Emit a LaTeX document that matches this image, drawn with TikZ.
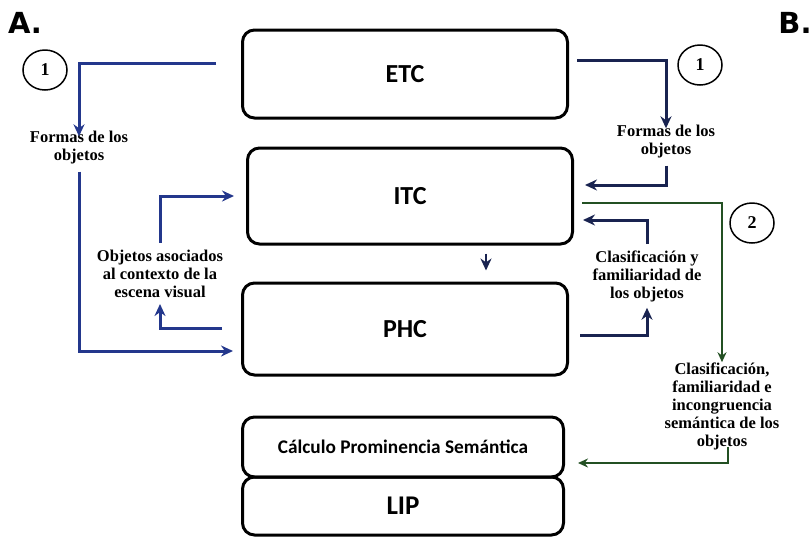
\documentclass[tikz,border=0pt]{standalone}
\usepackage{fontspec}
\usepackage{xcolor}
\usepackage{tikz}
\usetikzlibrary{shapes.geometric}
\usetikzlibrary{positioning}
\usetikzlibrary{arrows.meta}
\newfontfamily\boxfont{Carlito}
\newfontfamily\capfont{Liberation Serif}
\newfontfamily\headfont{DejaVu Sans}
\definecolor{refblue}{RGB}{35,55,140}
\definecolor{refnavy}{RGB}{25,35,80}
\definecolor{refgreen}{RGB}{35,80,35}
\tikzstyle{stage} = [rectangle, rounded corners=12pt, minimum width=325pt, minimum height=92pt, text centered, draw=black, line width=3pt, font=\boxfont\bfseries\fontsize{26}{30}\selectfont]
\tikzstyle{caption} = [align=center, inner sep=1pt, font=\capfont\bfseries\fontsize{16.5}{18}\selectfont]
\tikzstyle{stepnum} = [ellipse, draw=black, line width=1.5pt, minimum width=44pt, minimum height=40pt, inner sep=0pt, font=\capfont\bfseries\fontsize{18}{20}\selectfont]
\tikzstyle{panel} = [font=\headfont\bfseries\fontsize{29}{31}\selectfont]
\tikzstyle{bluearrow} = [line width=3pt, draw=refblue, ->, >={Stealth[length=12pt, width=11pt]}]
\tikzstyle{navyarrow} = [line width=3pt, draw=refnavy, ->, >={Stealth[length=12pt, width=11pt]}]
\tikzstyle{greenarrow} = [line width=2.2pt, draw=refgreen, ->, >={Stealth[length=10pt, width=9pt]}]

\begin{document}
\begin{tikzpicture}[x=1pt, y=-1pt, node distance=120pt]
        \useasboundingbox (0,0) rectangle (812,539);
        % boxes
        \node (etc) [stage, minimum height=88pt] at (405,74) {ETC};
        \node (itc) [stage, below of=etc, xshift=5pt, yshift=-2pt, minimum height=96pt] {ITC};
        \node (phc) [stage, below of=itc, xshift=-5pt, yshift=-13pt] {PHC};
        \node (prominence) [stage, below of=phc, xshift=-2pt, yshift=2pt, minimum width=321pt, minimum height=60pt, font=\boxfont\bfseries\fontsize{19.3}{22}\selectfont] {Cálculo Prominencia Semántica};
        \node (lip) [stage, below of=prominence, node distance=59pt, minimum width=321pt, minimum height=58pt, font=\boxfont\bfseries\fontsize{27}{30}\selectfont] {LIP};

        \node (panelA) [panel] at (25,23) {A.};
        \node (panelB) [panel] at (795,23) {B.};
        \node (oneLeft) [stepnum] at (45,70) {1};
        \node (oneRight) [stepnum] at (700,65) {1};
        \node (two) [stepnum] at (752,223) {2};

        % labels
        \node (formasLeft) [caption] at (79,148) {Formas de los\\objetos};
        \node (formasRight) [caption] at (666,142) {Formas de los\\objetos};
        \node (objetosContexto) [caption] at (160,274) {Objetos asociados\\al contexto de la\\escena visual};
        \node (clasifFamiliar) [caption] at (647,276) {Clasificación y\\familiaridad de\\los objetos};
        \node (clasifIncong) [caption] at (722,406) {Clasificación,\\familiaridad e\\incongruencia\\semántica de los\\objetos};

        % left side
        \draw [bluearrow] ([xshift=-25pt, yshift=11pt]etc.west) -| ([yshift=-6pt]formasLeft.north);
        \draw [bluearrow, shorten <=6pt] (formasLeft.south) |- ([xshift=-8pt, yshift=-22pt]phc.west);
        \draw [bluearrow, shorten <=6pt] (objetosContexto.north) |- ([xshift=-12pt]itc.west);
        \draw [bluearrow, shorten >=5pt] ([xshift=-19pt, yshift=1pt]phc.west) -| (objetosContexto.south);
        % right side
        \draw [navyarrow] ([xshift=8pt, yshift=14pt]etc.east) -| ([yshift=-4pt]formasRight.north);
        \draw [navyarrow, shorten <=6pt] (formasRight.south) |- ([xshift=11pt, yshift=11pt]itc.east);
        \draw [greenarrow] ([xshift=8pt, yshift=-7pt]itc.east) -| ([yshift=-1pt]clasifIncong.north);
        \draw [greenarrow] ([xshift=6pt, yshift=4pt]clasifIncong.south) |- ([xshift=13pt, yshift=-16pt]prominence.east);
        \draw [navyarrow, shorten <=5pt] (clasifFamiliar.north) |- ([xshift=9pt, yshift=-24pt]itc.east);
        \draw [navyarrow, shorten >=5pt] ([xshift=11pt, yshift=-6pt]phc.east) -| (clasifFamiliar.south);
        \draw [navyarrow, line width=2.2pt] ([xshift=76pt, yshift=-8pt]itc.south) -- ([xshift=81pt, yshift=11pt]phc.north);
\end{tikzpicture}
\end{document}
